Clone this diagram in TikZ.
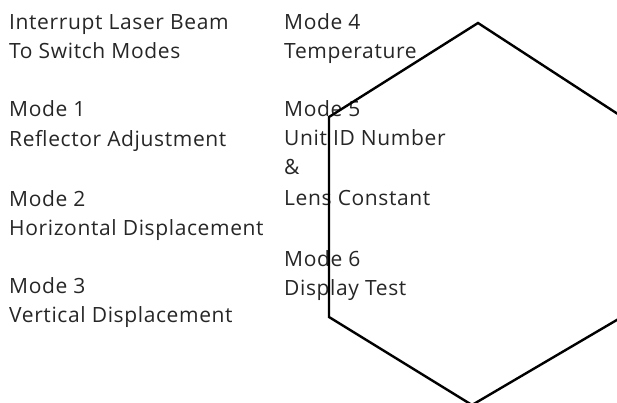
\documentclass[tikz,border=0pt]{standalone}
\usepackage{fontspec}
\setmainfont[LetterSpace=3]{Open Sans}
\begin{document}
\begin{tikzpicture}[x=1pt,y=-1pt,
  lbl/.style={anchor=base west,inner sep=0pt,font=\fontsize{21}{29}\selectfont,text=black!85}]
\useasboundingbox (0,0) rectangle (617,403);
\clip (0,0) rectangle (617,403);
\node[lbl] (a1) at (9,30) {Interrupt Laser Beam};
\node[lbl] (a2) at (9,59) {To Switch Modes};
\node[lbl] (b1) at (9,117) {Mode 1};
\node[lbl] (b2) at (9,147) {Reflector Adjustment};
\node[lbl] (c1) at (9,206) {Mode 2};
\node[lbl] (c2) at (9,235) {Horizontal Displacement};
\node[lbl] (d1) at (9,293) {Mode 3};
\node[lbl] (d2) at (9,322) {Vertical Displacement};
\node[lbl] (e1) at (284,30) {Mode 4};
\node[lbl] (e2) at (284,59) {Temperature};
\node[lbl] (f1) at (284,117) {Mode 5};
\node[lbl] (f2) at (284,146) {Unit ID Number};
\node[lbl] (f3) at (284,175) {\&};
\node[lbl] (f4) at (284,205) {Lens Constant};
\node[lbl] (g1) at (284,266) {Mode 6};
\node[lbl] (g2) at (284,295) {Display Test};
\coordinate (h1) at (478,23);
\coordinate (h2) at (329,117);
\coordinate (h3) at (329,317);
\coordinate (h4) at (472,405);
\coordinate (h5) at (627,314);
\coordinate (h6) at (627,120);
\draw[line width=2.4pt,line join=miter] (h1) -- (h2) -- (h3) -- (h4) -- (h5) -- (h6) -- cycle;
\end{tikzpicture}
\end{document}
